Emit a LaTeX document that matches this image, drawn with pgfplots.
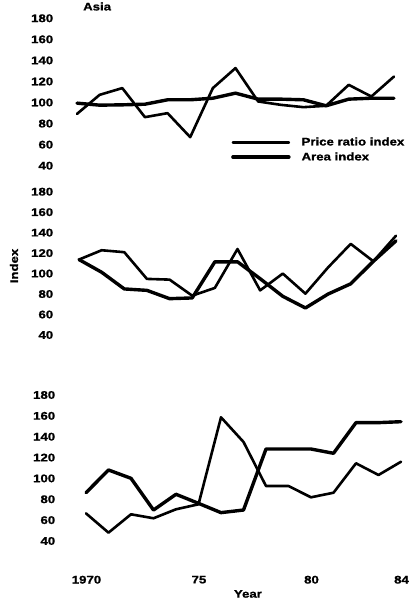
\documentclass[border=0pt]{standalone}
\usepackage{pgfplots}
\pgfplotsset{compat=1.18}
\usepackage{fontspec}
\setmainfont{Liberation Sans}[FakeStretch=1.2, FakeBold=1.2]
\newcommand\cf{\fontsize{11bp}{13bp}\selectfont\bfseries}
\begin{document}
\begin{tikzpicture}
\useasboundingbox (0,0) rectangle (410bp,599bp);
\pgfplotsset{
  panel/.style={scale only axis, xmin=1970, xmax=1984, ymin=40, ymax=180,
    axis line style={draw=none}, major tick length=0pt,
    ytick={40,60,80,100,120,140,160,180},
    yticklabels={40,60,80,100,120,140,160,180},
    xtick=\empty, tick label style={font=\cf}, label style={font=\cf},
    clip=false, anchor=south west,
    /pgf/number format/assume math mode=true},
  price/.style={black, line width=2.6bp, line join=round, line cap=round},
  area/.style={black, line width=3.4bp, line join=round, line cap=round},
}
% Panel 1
\begin{axis}[panel, at={(77bp,433.3bp)}, width=317bp, height=147.4bp,
  yticklabel style={xshift=-20.3bp},
  title={Asia}, title style={font=\cf, at={(axis description cs:0.0158,1.075)}, anchor=north west, inner sep=1bp},
  legend image code/.code={\draw[#1] (0bp,0bp) -- (56bp,0bp);},
  legend cell align=left,
  legend style={draw=none, fill=none, inner sep=0pt, row sep=3.5bp,
    at={(axis description cs:0.4858,0.1995)}, anchor=north west,
    nodes={inner sep=1bp, font=\cf},
    /tikz/every odd column/.style={column sep=10bp}}]
\addplot[price] coordinates {(1970,89.2)(1971,107.3)(1972,113.7)(1973,86.1)(1974,89.9)(1975,67.1)(1976,113.7)(1977,132.7)(1978,101)(1979,97.8)(1980,95.6)(1981,96.9)(1982,116.8)(1983,105.7)(1984,124.7)};
\addlegendentry{Price ratio index}
\addplot[area] coordinates {(1970,99.4)(1971,97.5)(1972,97.8)(1973,98.4)(1974,102.6)(1975,102.6)(1976,104.1)(1977,108.9)(1978,103.2)(1979,103.2)(1980,102.6)(1981,96.9)(1982,103.2)(1983,104.1)(1984,104.1)};
\addlegendentry{Area index}
\end{axis}
% Panel 2
\begin{axis}[panel, at={(79bp,264bp)}, width=317bp, height=143.3bp,
  yticklabel style={xshift=-22.3bp},
  ylabel={Index}, y label style={at={(axis description cs:-0.205,0.4815)}, anchor=center, inner sep=0pt}]
\addplot[price] coordinates {(1970,113.7)(1971,122.8)(1972,120.9)(1973,94.8)(1974,94.1)(1975,78.4)(1976,86)(1977,124)(1978,83.6)(1979,100)(1980,80.4)(1981,106)(1982,129)(1983,112)(1984,137)};
\addplot[area] coordinates {(1970,113.7)(1971,101.3)(1972,85)(1973,83.6)(1974,75.5)(1975,76.2)(1976,111.5)(1977,111.5)(1978,95)(1979,77.8)(1980,66.4)(1981,80)(1982,90)(1983,112)(1984,132)};
\end{axis}
% Panel 3
\begin{axis}[panel, at={(86bp,58bp)}, width=315bp, height=146bp,
  yticklabel style={xshift=-27.3bp},
  xtick={1970,1975,1980,1984}, xticklabels={1970,75,80,84},
  xticklabel style={xshift=0.5bp, yshift=-31.3bp},
  xlabel={Year}, x label style={at={(axis description cs:0.514,-0.397)}, anchor=south, inner sep=1bp}]
\addplot[price] coordinates {(1970,66.5)(1971,48)(1972,65.6)(1973,61.8)(1974,70.4)(1975,75.2)(1976,158.6)(1977,135)(1978,92.7)(1979,92.7)(1980,81.9)(1981,86.3)(1982,114.5)(1983,103.3)(1984,116)};
\addplot[area] coordinates {(1970,86.3)(1971,108.1)(1972,100.1)(1973,69.7)(1974,84.8)(1975,76.1)(1976,67.2)(1977,69.7)(1978,128.2)(1979,128.2)(1980,128.2)(1981,124.1)(1982,153.5)(1983,153.5)(1984,154.4)};
\end{axis}
\end{tikzpicture}
\end{document}
